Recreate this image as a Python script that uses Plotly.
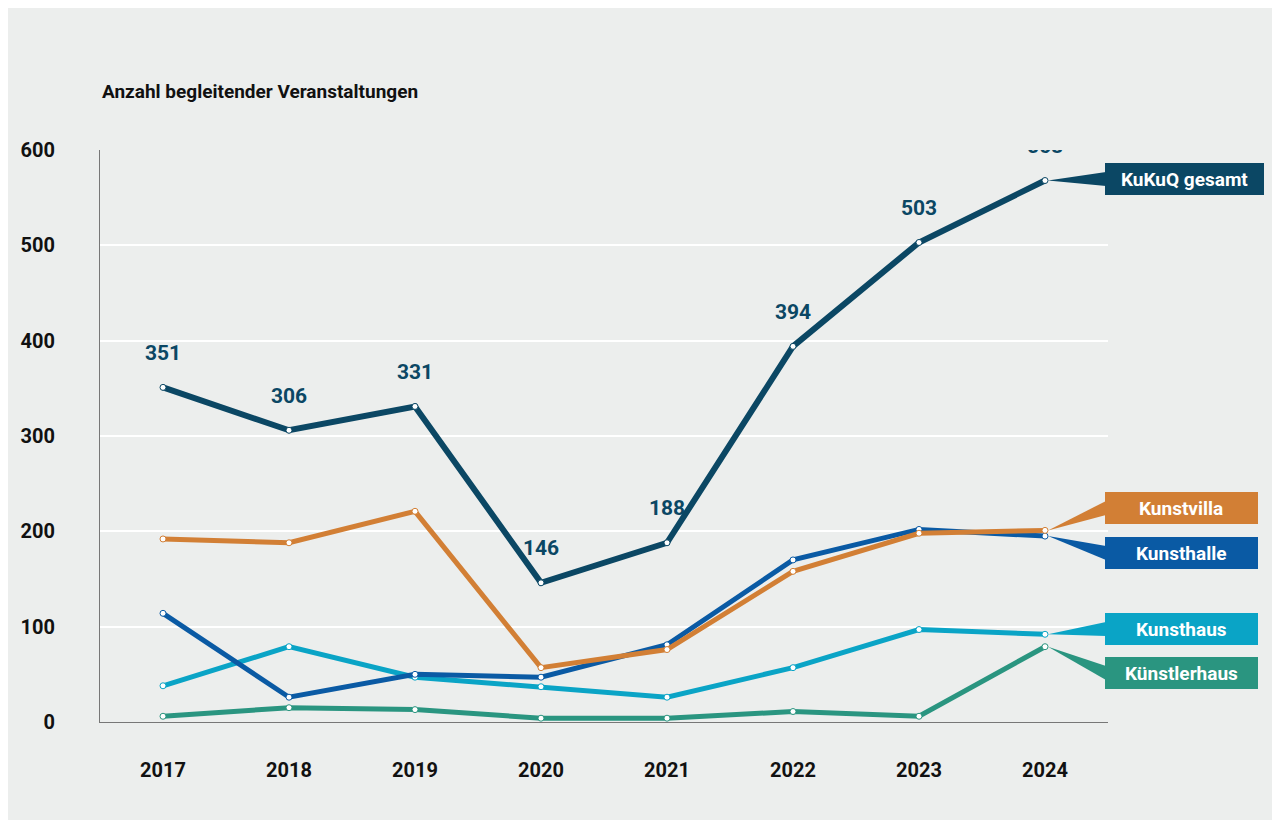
import plotly.graph_objects as go

years = [2017, 2018, 2019, 2020, 2021, 2022, 2023, 2024]
gesamt = [351, 306, 331, 146, 188, 394, 503, 568]
kunstvilla = [192, 188, 221, 57, 76, 158, 198, 201]
kunsthalle = [114, 26, 50, 47, 81, 170, 202, 195]
kunsthaus = [38, 79, 47, 37, 26, 57, 97, 92]
kuenstlerhaus = [6, 15, 13, 4, 4, 11, 6, 79]

FONT = "Roboto, sans-serif"
BG = "#eceeed"

series = [
    ("Künstlerhaus", kuenstlerhaus, "#2a9580"),
    ("Kunsthaus", kunsthaus, "#0aa4c6"),
    ("Kunsthalle", kunsthalle, "#0a5aa4"),
    ("Kunstvilla", kunstvilla, "#d27f35"),
    ("KuKuQ gesamt", gesamt, "#0b4764"),
]

fig = go.Figure()
for name, vals, col in series:
    fig.add_trace(go.Scatter(
        x=years, y=vals, mode="lines+markers", name=name,
        line=dict(color=col, width=6 if name == "KuKuQ gesamt" else 5),
        marker=dict(size=6, color="white", line=dict(color=col, width=1))))

# value labels on the total line (invisible big marker pushes text up)
fig.add_trace(go.Scatter(
    x=years, y=gesamt, mode="markers+text", text=[f"<b>{v}</b>" for v in gesamt],
    textposition="top center", marker=dict(size=34, color="rgba(0,0,0,0)"),
    textfont=dict(family=FONT, size=21, color="#0b4764"),
    hoverinfo="skip"))

# tag labels on the right (pixel positions of boxes -> paper/data coords)
def px_x(px):
    return (px - 92) / 1008

def px_y(py):
    return (714 - py) / (572 / 600)

tags = [
    ("KuKuQ gesamt", gesamt[-1], 171, 1256, "#0b4764"),
    ("Kunstvilla", kunstvilla[-1], 500, 1250, "#d27f35"),
    ("Kunsthalle", kunsthalle[-1], 545, 1250, "#0a5aa4"),
    ("Kunsthaus", kunsthaus[-1], 621, 1250, "#0aa4c6"),
    ("Künstlerhaus", kuenstlerhaus[-1], 665, 1250, "#2a9580"),
]
shapes = []
for text, yv, cy, right, col in tags:
    x0 = px_x(1097)
    tip = px_x(1040)
    shapes.append(dict(type="rect", xref="paper", yref="y", x0=x0, x1=px_x(right),
                       y0=px_y(cy + 16), y1=px_y(cy - 16), fillcolor=col, line_width=0))
    shapes.append(dict(type="path", xref="paper", yref="y",
                       path=f"M {tip} {yv} L {x0 + 0.001} {px_y(cy - 7)} L {x0 + 0.001} {px_y(cy + 7)} Z",
                       fillcolor=col, line_width=0))
    fig.add_annotation(xref="paper", yref="y", x=(x0 + px_x(right)) / 2, y=px_y(cy),
                       xanchor="center", yanchor="middle",
                       text=f"<b>{text}</b>", showarrow=False,
                       font=dict(family=FONT, size=19, color="white"))

fig.add_annotation(xref="paper", yref="paper", x=0, y=1.0, yshift=45, xanchor="left",
                   yanchor="bottom", text="<b>Anzahl begleitender Veranstaltungen</b>",
                   showarrow=False, font=dict(family=FONT, size=19, color="#111"))

fig.update_layout(
    width=1280, height=820, paper_bgcolor=BG, plot_bgcolor=BG,
    margin=dict(l=92, r=180, t=142, b=106), showlegend=False, shapes=shapes,
    font=dict(family=FONT, size=20, color="#111"),
)
fig.update_xaxes(range=[2016.5, 2024.5], tickvals=years, showgrid=False,
                 showline=True, linecolor="#777", linewidth=1, zeroline=False,
                 tickfont=dict(family=FONT, size=20, color="#111", weight="bold"),
                 ticklen=0, ticklabelstandoff=30)
fig.update_yaxes(range=[0, 600], dtick=100, gridcolor="white", gridwidth=1.5,
                 showline=True, linecolor="#777", linewidth=1, zeroline=False,
                 tickfont=dict(family=FONT, size=20, color="#111", weight="bold"),
                 ticklabelstandoff=40)

fig.write_html("out.html")
